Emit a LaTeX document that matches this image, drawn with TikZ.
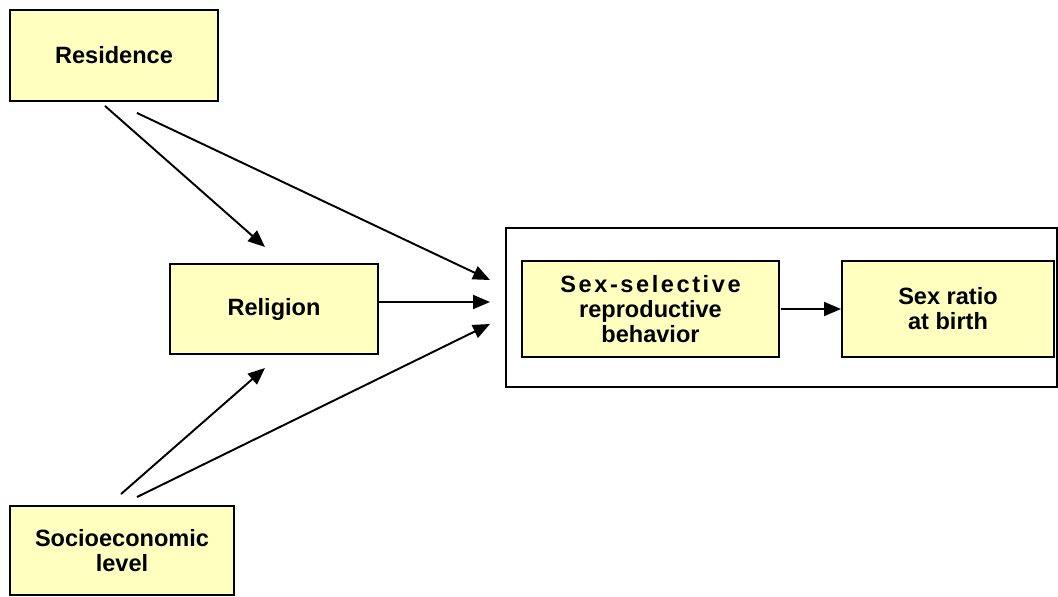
\documentclass[tikz,border=0pt]{standalone}
\usepackage{fontspec}
\setmainfont{Liberation Sans}
\usepackage{tikz}
\usetikzlibrary{positioning}
\usetikzlibrary{calc}
\usetikzlibrary{arrows.meta}
\definecolor{boxfill}{RGB}{255,255,192}
\tikzset{
  factor/.style={draw, line width=1.1pt, fill=boxfill, align=center, inner sep=0pt,
    font=\bfseries\fontsize{13.4}{14.2}\selectfont},
  link/.style={line width=1.1pt, ->}
}

\begin{document}
\begin{tikzpicture}[x=0.02cm, y=-0.02cm, >={Triangle[length=3.4mm, width=2.8mm]}]
      \useasboundingbox (0,0) rectangle (1058,597);

      \node[factor, minimum width=208*0.02cm, minimum height=91*0.02cm] at (114,55.5) (res) {Residence};
      \node[factor, minimum width=208*0.02cm, minimum height=90*0.02cm] at (274,309) (rel) {Religion};
      \node[factor, minimum width=224*0.02cm, minimum height=89*0.02cm] at (122,550.5) (ses) {Socioeconomic\\level};
      
      \node[draw, line width=1.1pt, minimum width=551*0.02cm, minimum height=159*0.02cm] at (781.5,307.5) (outer) {};
      \node[factor, minimum width=257*0.02cm, minimum height=96*0.02cm] at (650.5,309) (ssb)
        {\addfontfeature{LetterSpace=11}Sex-selective\\reproductive\\behavior};
      \node[factor, minimum width=212*0.02cm, minimum height=96*0.02cm] at (948,309) (srb) {Sex ratio\\at birth};
      
      % free ends of the arrows
      \coordinate (r1) at ($(res.south)+(-9,4)$);
      \coordinate (r2) at ($(res.south)+(23,11)$);
      \coordinate (s1) at ($(ses.north)+(-1,-11)$);
      \coordinate (s2) at ($(ses.north)+(15,-8)$);
      \coordinate (relout) at ($(rel.east)+(0,-7)$);
      \coordinate (in1) at (490,280);
      \coordinate (in2) at (490,302);
      \coordinate (in3) at (490,324);
      \coordinate (relin1) at (265,247);
      \coordinate (relin2) at (265,368);
      
      \draw[link] (r1) -- (relin1);
      \draw[link] (r2) -- (in1);
      \draw[link] (relout) -- (in2);
      \draw[link] (s1) -- (relin2);
      \draw[link] (s2) -- (in3);
      \draw[link] (ssb.east) ++(1,0) -- (srb.west);
    \end{tikzpicture}
\end{document}
